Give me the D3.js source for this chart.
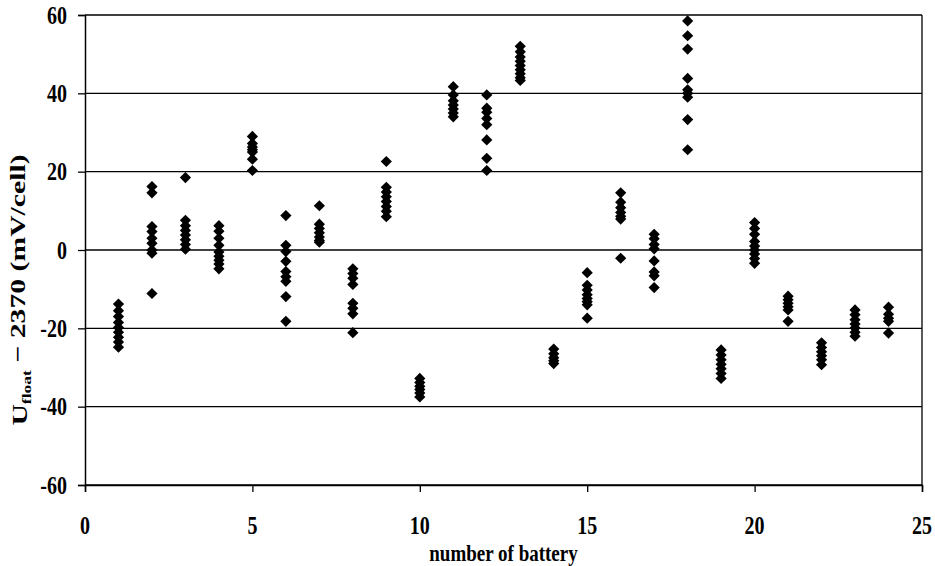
<!DOCTYPE html>
<html>
<head>
<meta charset="utf-8">
<script src="https://cdn.jsdelivr.net/npm/d3@7"></script>
<style>
  html, body { margin: 0; padding: 0; background: #fff; }
  svg { display: block; }
  text { font-family: "Liberation Serif", "Times New Roman", serif; font-weight: bold; fill: #000; }
</style>
</head>
<body>
<svg id="chart" width="935" height="566"></svg>
<script>
// Float voltage deviation per cell for each battery (mV/cell, relative to 2370 mV)
const batteries = [1, 2, 3, 4, 5, 6, 7, 8, 9, 10, 11, 12, 13, 14, 15, 16, 17, 18, 19, 20, 21, 22, 23, 24];
const readings = [
  [-13.8, -15.5, -17, -18.5, -19.8, -21, -22.3, -23.5, -24.8],
  [16.2, 14.6, 6, 4.7, 3, 1.7, 0, -0.8, -11.1],
  [18.5, 7.6, 6.2, 5, 3.8, 2.6, 1.4, 0.2],
  [6.2, 4.8, 3, 1.2, -0.5, -1.6, -2.6, -3.6, -4.8],
  [29, 27.2, 26.3, 25.6, 25, 23.2, 20.3],
  [8.8, 1.2, -0.4, -2.9, -5.5, -6.8, -8, -11.9, -18.2],
  [11.3, 6.6, 5.5, 4.4, 3.3, 2.4, 2],
  [-4.8, -6, -7.2, -8.8, -13.6, -14.9, -16.3, -21.1],
  [22.6, 16, 14.8, 13.6, 12.4, 11.1, 9.9, 8.5],
  [-32.8, -33.8, -34.8, -35.6, -36.5, -37.5],
  [41.7, 39.6, 38.1, 37, 36, 35, 34],
  [39.6, 36.2, 35.2, 33.6, 32, 28.1, 23.4, 20.3],
  [52, 50.6, 49.3, 48.2, 47.1, 46, 45, 44, 43.3],
  [-25.3, -26.5, -27.5, -28.3, -29],
  [-5.8, -9, -10.2, -11.4, -12.4, -13.2, -14, -17.4],
  [14.6, 12.2, 10.8, 9.6, 8.6, 7.9, -2.1],
  [4, 2.9, 1.4, 0.3, -2.8, -5.6, -6.6, -9.6],
  [58.5, 54.7, 51.3, 43.8, 40.9, 40, 39, 33.3, 25.6],
  [-25.5, -26.8, -28, -29.2, -30.3, -31.5, -32.8],
  [7, 5.5, 4, 2.2, 1, 0, -1, -2.2, -3.4],
  [-11.8, -12.7, -13.6, -14.5, -15.3, -18.2],
  [-23.7, -24.9, -26, -27, -28, -29.3],
  [-15.3, -16.5, -17.8, -18.9, -19.9, -21, -22],
  [-14.6, -16.4, -17.4, -18.2, -21.2]
];
const xTicks = [0, 5, 10, 15, 20, 25];
const yTicks = [-60, -40, -20, 0, 20, 40, 60];

const points = batteries.flatMap((b, i) => readings[i].map(v => ({ battery: b, value: v })));

const svg = d3.select("#chart");
const margin = { left: 85, right: 13, top: 15, bottom: 81 };
const W = 935, H = 566;
const plotW = W - margin.left - margin.right;
const plotH = H - margin.top - margin.bottom;

const x = d3.scaleLinear().domain([0, 25]).range([margin.left, margin.left + plotW]);
const y = d3.scaleLinear().domain([-60, 60]).range([margin.top + plotH, margin.top]);

// text glyphs are drawn tall and narrow
const stretch = 1.25;
const fmt = d => String(d);

// horizontal gridlines
svg.append("g")
  .selectAll("line")
  .data(yTicks)
  .join("line")
  .attr("x1", x(0)).attr("x2", x(25))
  .attr("y1", d => y(d)).attr("y2", d => y(d))
  .attr("stroke", "#000").attr("stroke-width", 1.3);

// right border of the plot area
svg.append("line")
  .attr("x1", x(25)).attr("x2", x(25))
  .attr("y1", y(60)).attr("y2", y(-60))
  .attr("stroke", "#000").attr("stroke-width", 1.3);

// y axis (line and ticks; labels drawn below)
const yAxis = svg.append("g")
  .attr("transform", `translate(${x(0)},0)`)
  .call(d3.axisLeft(y).tickValues(yTicks).tickSize(7).tickFormat(""));
yAxis.select(".domain").attr("stroke-width", 1.5);
yAxis.selectAll(".tick line").attr("stroke-width", 1.3);

// x axis
const xAxis = svg.append("g")
  .attr("transform", `translate(0,${y(-60)})`)
  .call(d3.axisBottom(x).tickValues(xTicks).tickSize(7).tickFormat(""));
xAxis.select(".domain").attr("stroke-width", 1.5);
xAxis.selectAll(".tick line").attr("stroke-width", 1.3);

// tick labels
svg.append("g")
  .selectAll("text")
  .data(yTicks)
  .join("text")
  .attr("transform", d => `translate(${x(0) - 18},${y(d)}) scale(1,${stretch})`)
  .attr("text-anchor", "end")
  .attr("dy", "0.34em")
  .style("font-size", "20px")
  .text(fmt);

svg.append("g")
  .selectAll("text")
  .data(xTicks)
  .join("text")
  .attr("transform", d => `translate(${x(d)},${y(-60) + 40}) scale(1,${stretch})`)
  .attr("text-anchor", "middle")
  .attr("dy", "0.34em")
  .style("font-size", "20px")
  .text(fmt);

// diamond markers
const r = 5.6;
svg.append("g")
  .selectAll("path")
  .data(points)
  .join("path")
  .attr("transform", d => `translate(${x(d.battery)},${y(d.value)})`)
  .attr("d", `M0,${-r}L${r},0L0,${r}L${-r},0Z`)
  .attr("fill", "#000");

// axis titles
svg.append("text")
  .attr("transform", `translate(${(x(0) + x(25)) / 2},553) scale(1,${stretch})`)
  .attr("text-anchor", "middle")
  .attr("dy", "0.34em")
  .style("font-size", "19px")
  .text("number of battery");

const yTitle = svg.append("text")
  .attr("transform", `translate(20,290) rotate(-90) scale(1.35,1)`)
  .attr("text-anchor", "middle")
  .attr("dy", "0.34em")
  .style("font-size", "22px");
yTitle.append("tspan").text("U");
yTitle.append("tspan").attr("dy", "0.3em").style("font-size", "13px").text("float");
yTitle.append("tspan").attr("dy", "-0.3em").text(" − 2370 (mV/cell)");
</script>
</body>
</html>
